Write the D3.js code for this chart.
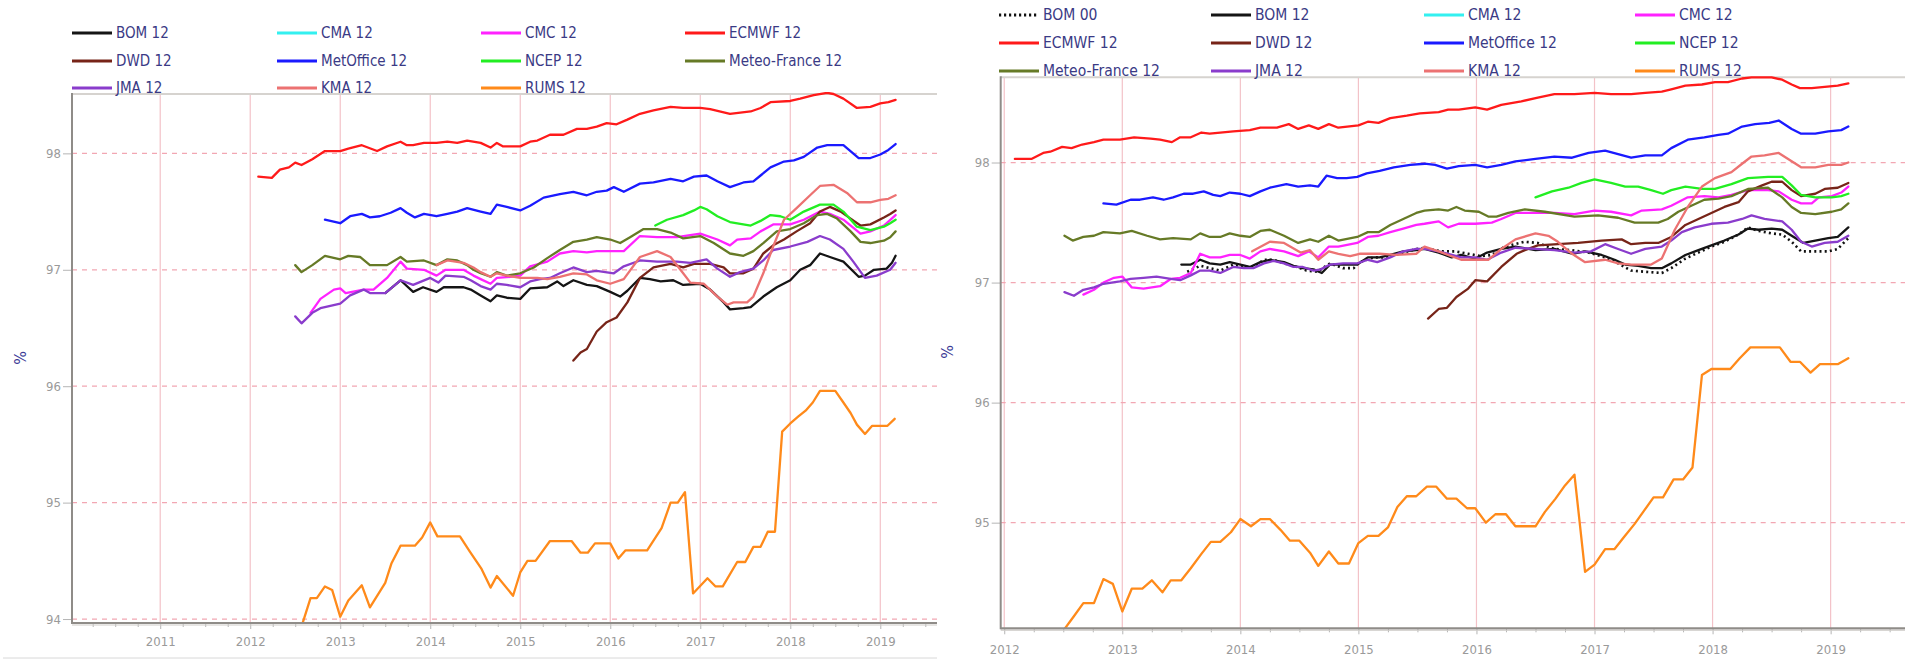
<!DOCTYPE html>
<html>
<head>
<meta charset="utf-8">
<script src="https://cdn.jsdelivr.net/npm/d3@7"></script>
<style>
  html, body { margin: 0; padding: 0; background: #fff; }
  svg { display: block; }
  text { font-family: "DejaVu Sans Condensed", "DejaVu Sans", sans-serif; font-stretch: condensed; }
</style>
</head>
<body>
<svg id="chart" width="1905" height="659"></svg>
<script>
// ---------- data: [decimal year, % score] ----------
// Left panel
const L_BOM12 = [[2013.50,96.80],[2013.67,96.91],[2013.81,96.81],[2013.92,96.85],[2014.07,96.81],[2014.15,96.85],[2014.37,96.85],[2014.45,96.83],[2014.56,96.78],[2014.67,96.73],[2014.74,96.78],[2014.85,96.76],[2015.0,96.75],[2015.11,96.84],[2015.30,96.85],[2015.41,96.90],[2015.48,96.86],[2015.59,96.91],[2015.74,96.87],[2015.85,96.86],[2016.0,96.81],[2016.11,96.77],[2016.19,96.82],[2016.33,96.93],[2016.44,96.92],[2016.56,96.90],[2016.70,96.91],[2016.81,96.87],[2017.0,96.88],[2017.11,96.83],[2017.26,96.72],[2017.33,96.66],[2017.48,96.67],[2017.56,96.68],[2017.70,96.77],[2017.85,96.85],[2018.0,96.91],[2018.11,97.00],[2018.22,97.04],[2018.33,97.14],[2018.44,97.11],[2018.59,97.07],[2018.76,96.94],[2018.83,96.95],[2018.93,97.00],[2019.07,97.01],[2019.13,97.06],[2019.17,97.12]];
const L_CMA12 = [];
const L_CMC12 = [[2012.67,96.63],[2012.78,96.75],[2012.93,96.83],[2013.0,96.84],[2013.06,96.80],[2013.26,96.83],[2013.37,96.83],[2013.52,96.93],[2013.67,97.07],[2013.74,97.01],[2013.93,97.00],[2014.07,96.95],[2014.17,97.00],[2014.37,97.00],[2014.48,96.95],[2014.56,96.92],[2014.67,96.88],[2014.74,96.93],[2014.89,96.94],[2015.0,96.95],[2015.11,97.03],[2015.30,97.07],[2015.44,97.14],[2015.59,97.16],[2015.74,97.15],[2015.85,97.16],[2016.04,97.16],[2016.15,97.16],[2016.33,97.29],[2016.52,97.28],[2016.74,97.28],[2017.0,97.31],[2017.19,97.26],[2017.33,97.21],[2017.41,97.26],[2017.56,97.27],[2017.67,97.33],[2017.81,97.39],[2018.0,97.39],[2018.15,97.43],[2018.33,97.50],[2018.44,97.48],[2018.59,97.43],[2018.78,97.31],[2018.89,97.33],[2019.04,97.38],[2019.17,97.47]];
const L_ECMWF12 = [[2012.09,97.80],[2012.24,97.79],[2012.33,97.86],[2012.43,97.88],[2012.5,97.92],[2012.57,97.90],[2012.69,97.95],[2012.83,98.02],[2013.0,98.02],[2013.09,98.04],[2013.24,98.07],[2013.41,98.02],[2013.52,98.06],[2013.67,98.10],[2013.74,98.07],[2013.81,98.07],[2013.93,98.09],[2014.07,98.09],[2014.19,98.10],[2014.3,98.09],[2014.41,98.11],[2014.56,98.09],[2014.67,98.05],[2014.74,98.09],[2014.81,98.06],[2015.0,98.06],[2015.11,98.10],[2015.19,98.11],[2015.33,98.16],[2015.48,98.16],[2015.63,98.21],[2015.74,98.21],[2015.85,98.23],[2015.96,98.26],[2016.07,98.25],[2016.19,98.29],[2016.33,98.34],[2016.48,98.37],[2016.67,98.40],[2016.81,98.39],[2017.0,98.39],[2017.11,98.38],[2017.33,98.34],[2017.56,98.36],[2017.67,98.39],[2017.78,98.44],[2018.0,98.45],[2018.11,98.47],[2018.26,98.50],[2018.41,98.52],[2018.48,98.51],[2018.59,98.47],[2018.74,98.39],[2018.89,98.40],[2019.0,98.43],[2019.09,98.44],[2019.17,98.46]];
const L_DWD12 = [[2015.59,96.22],[2015.67,96.29],[2015.74,96.32],[2015.85,96.47],[2015.96,96.55],[2016.07,96.59],[2016.19,96.72],[2016.33,96.93],[2016.48,97.02],[2016.67,97.05],[2016.81,97.02],[2016.93,97.05],[2017.11,97.05],[2017.26,97.02],[2017.33,96.97],[2017.48,96.97],[2017.59,97.01],[2017.70,97.14],[2017.81,97.21],[2017.93,97.26],[2018.07,97.33],[2018.22,97.40],[2018.33,97.50],[2018.44,97.54],[2018.56,97.50],[2018.67,97.44],[2018.78,97.38],[2018.89,97.39],[2019.04,97.45],[2019.11,97.48],[2019.17,97.51]];
const L_METOFFICE12 = [[2012.83,97.43],[2013.0,97.40],[2013.11,97.46],[2013.24,97.48],[2013.33,97.45],[2013.44,97.46],[2013.56,97.49],[2013.67,97.53],[2013.74,97.49],[2013.83,97.45],[2013.93,97.48],[2014.07,97.46],[2014.19,97.48],[2014.3,97.50],[2014.41,97.53],[2014.56,97.50],[2014.67,97.48],[2014.74,97.56],[2014.85,97.54],[2015.0,97.51],[2015.11,97.55],[2015.26,97.62],[2015.44,97.65],[2015.59,97.67],[2015.74,97.64],[2015.85,97.67],[2015.96,97.68],[2016.04,97.71],[2016.15,97.67],[2016.33,97.74],[2016.48,97.75],[2016.67,97.78],[2016.81,97.76],[2016.93,97.80],[2017.07,97.81],[2017.19,97.76],[2017.33,97.71],[2017.48,97.75],[2017.59,97.76],[2017.67,97.81],[2017.78,97.88],[2017.93,97.93],[2018.04,97.94],[2018.15,97.97],[2018.30,98.05],[2018.41,98.07],[2018.59,98.07],[2018.76,97.96],[2018.89,97.96],[2019.0,97.99],[2019.09,98.03],[2019.17,98.08]];
const L_NCEP12 = [[2016.5,97.38],[2016.63,97.43],[2016.81,97.47],[2016.93,97.51],[2017.0,97.54],[2017.07,97.52],[2017.19,97.46],[2017.33,97.41],[2017.56,97.38],[2017.67,97.42],[2017.78,97.47],[2017.89,97.46],[2018.0,97.43],[2018.15,97.50],[2018.33,97.56],[2018.48,97.56],[2018.59,97.50],[2018.74,97.37],[2018.89,97.34],[2019.04,97.37],[2019.11,97.40],[2019.17,97.43]];
const L_METEOFRANCE12 = [[2012.5,97.04],[2012.57,96.98],[2012.69,97.04],[2012.83,97.12],[2013.0,97.09],[2013.09,97.12],[2013.22,97.11],[2013.33,97.04],[2013.52,97.04],[2013.67,97.11],[2013.74,97.07],[2013.93,97.08],[2014.07,97.04],[2014.19,97.09],[2014.3,97.08],[2014.41,97.04],[2014.48,97.00],[2014.56,96.97],[2014.67,96.94],[2014.74,96.98],[2014.85,96.95],[2015.0,96.97],[2015.15,97.02],[2015.30,97.10],[2015.44,97.17],[2015.59,97.24],[2015.74,97.26],[2015.85,97.28],[2016.0,97.26],[2016.11,97.23],[2016.22,97.28],[2016.37,97.35],[2016.52,97.35],[2016.67,97.32],[2016.81,97.27],[2017.0,97.29],[2017.15,97.23],[2017.33,97.14],[2017.48,97.12],[2017.59,97.16],[2017.70,97.23],[2017.85,97.33],[2018.0,97.35],[2018.15,97.40],[2018.30,97.47],[2018.41,97.48],[2018.52,97.44],[2018.67,97.33],[2018.78,97.24],[2018.89,97.23],[2019.04,97.25],[2019.11,97.28],[2019.17,97.33]];
const L_JMA12 = [[2012.5,96.60],[2012.57,96.54],[2012.69,96.63],[2012.78,96.67],[2013.0,96.71],[2013.11,96.78],[2013.26,96.83],[2013.33,96.80],[2013.50,96.80],[2013.67,96.91],[2013.81,96.87],[2014.0,96.93],[2014.09,96.89],[2014.17,96.95],[2014.37,96.94],[2014.45,96.91],[2014.56,96.86],[2014.67,96.83],[2014.74,96.88],[2014.85,96.87],[2015.0,96.85],[2015.11,96.90],[2015.22,96.92],[2015.33,96.93],[2015.44,96.97],[2015.59,97.02],[2015.74,96.98],[2015.85,96.99],[2016.04,96.97],[2016.15,97.03],[2016.33,97.08],[2016.52,97.07],[2016.74,97.07],[2016.89,97.06],[2017.07,97.09],[2017.19,97.01],[2017.33,96.94],[2017.44,96.98],[2017.59,97.01],[2017.70,97.08],[2017.81,97.17],[2018.0,97.20],[2018.19,97.24],[2018.33,97.29],[2018.44,97.26],[2018.59,97.18],[2018.70,97.07],[2018.83,96.93],[2018.96,96.95],[2019.11,97.00],[2019.17,97.06]];
const L_KMA12 = [[2014.07,97.04],[2014.19,97.08],[2014.37,97.06],[2014.48,97.02],[2014.56,96.98],[2014.67,96.94],[2014.74,96.97],[2014.85,96.95],[2015.0,96.93],[2015.19,96.93],[2015.30,96.92],[2015.44,96.94],[2015.59,96.97],[2015.74,96.96],[2015.85,96.91],[2016.0,96.88],[2016.15,96.92],[2016.33,97.11],[2016.52,97.16],[2016.67,97.11],[2016.81,96.97],[2016.89,96.89],[2017.04,96.88],[2017.19,96.77],[2017.30,96.70],[2017.37,96.72],[2017.52,96.72],[2017.59,96.77],[2017.70,96.97],[2017.81,97.20],[2017.93,97.43],[2018.07,97.53],[2018.22,97.64],[2018.33,97.72],[2018.48,97.73],[2018.63,97.66],[2018.74,97.58],[2018.89,97.58],[2019.0,97.60],[2019.09,97.61],[2019.17,97.64]];
const L_RUMS12 = [[2012.5,93.96],[2012.58,93.96],[2012.67,94.18],[2012.74,94.18],[2012.83,94.28],[2012.91,94.25],[2013.0,94.02],[2013.09,94.16],[2013.24,94.29],[2013.33,94.10],[2013.5,94.31],[2013.57,94.48],[2013.67,94.63],[2013.83,94.63],[2013.91,94.70],[2014.0,94.83],[2014.08,94.71],[2014.33,94.71],[2014.44,94.58],[2014.57,94.43],[2014.67,94.27],[2014.74,94.37],[2014.92,94.20],[2015.0,94.40],[2015.08,94.50],[2015.17,94.50],[2015.33,94.67],[2015.57,94.67],[2015.67,94.57],[2015.75,94.57],[2015.83,94.65],[2016.0,94.65],[2016.09,94.52],[2016.17,94.59],[2016.41,94.59],[2016.57,94.78],[2016.67,95.0],[2016.75,95.0],[2016.83,95.09],[2016.92,94.22],[2017.08,94.35],[2017.17,94.28],[2017.25,94.28],[2017.41,94.49],[2017.5,94.49],[2017.59,94.62],[2017.67,94.62],[2017.75,94.75],[2017.83,94.75],[2017.91,95.61],[2018.0,95.68],[2018.09,95.74],[2018.17,95.79],[2018.25,95.86],[2018.33,95.96],[2018.5,95.96],[2018.59,95.86],[2018.67,95.77],[2018.74,95.67],[2018.83,95.59],[2018.91,95.66],[2019.08,95.66],[2019.16,95.72]];

// Right panel
const R_BOM00 = [[2013.55,97.09],[2013.66,97.14],[2013.74,97.12],[2013.83,97.10],[2013.94,97.15],[2014.03,97.13],[2014.11,97.13],[2014.20,97.19],[2014.28,97.19],[2014.37,97.16],[2014.48,97.13],[2014.56,97.10],[2014.65,97.09],[2014.76,97.16],[2014.87,97.12],[2014.96,97.12],[2015.01,97.17],[2015.13,97.21],[2015.24,97.21],[2015.35,97.24],[2015.49,97.28],[2015.56,97.29],[2015.70,97.26],[2015.82,97.26],[2015.93,97.24],[2016.04,97.22],[2016.13,97.23],[2016.24,97.30],[2016.41,97.34],[2016.52,97.33],[2016.66,97.28],[2016.81,97.27],[2016.95,97.25],[2017.09,97.21],[2017.20,97.16],[2017.31,97.10],[2017.43,97.09],[2017.57,97.08],[2017.65,97.12],[2017.77,97.20],[2017.88,97.25],[2017.99,97.30],[2018.10,97.34],[2018.22,97.40],[2018.30,97.46],[2018.39,97.43],[2018.50,97.41],[2018.59,97.40],[2018.67,97.34],[2018.75,97.26],[2018.87,97.26],[2018.98,97.26],[2019.06,97.28],[2019.15,97.37]];
const R_BOM12 = [[2013.50,97.15],[2013.58,97.15],[2013.66,97.19],[2013.74,97.16],[2013.83,97.15],[2013.91,97.17],[2014.0,97.15],[2014.08,97.13],[2014.17,97.17],[2014.25,97.19],[2014.37,97.17],[2014.45,97.14],[2014.53,97.12],[2014.62,97.11],[2014.69,97.08],[2014.76,97.15],[2014.87,97.15],[2014.99,97.15],[2015.08,97.21],[2015.18,97.21],[2015.27,97.23],[2015.38,97.26],[2015.49,97.27],[2015.56,97.28],[2015.68,97.25],[2015.79,97.21],[2015.87,97.23],[2015.99,97.20],[2016.09,97.25],[2016.21,97.28],[2016.33,97.30],[2016.50,97.27],[2016.66,97.28],[2016.81,97.24],[2016.92,97.26],[2017.06,97.23],[2017.17,97.19],[2017.26,97.15],[2017.37,97.14],[2017.48,97.12],[2017.57,97.12],[2017.65,97.16],[2017.77,97.23],[2017.88,97.27],[2017.99,97.31],[2018.10,97.35],[2018.22,97.40],[2018.30,97.45],[2018.39,97.44],[2018.50,97.45],[2018.59,97.44],[2018.67,97.39],[2018.77,97.33],[2018.87,97.35],[2018.98,97.37],[2019.06,97.38],[2019.15,97.46]];
const R_CMA12 = [];
const R_CMC12 = [[2012.67,96.90],[2012.76,96.94],[2012.84,97.00],[2012.93,97.04],[2013.0,97.05],[2013.08,96.96],[2013.18,96.95],[2013.32,96.97],[2013.41,97.03],[2013.49,97.04],[2013.58,97.08],[2013.66,97.24],[2013.74,97.21],[2013.83,97.21],[2013.91,97.23],[2014.0,97.23],[2014.08,97.20],[2014.17,97.26],[2014.25,97.28],[2014.37,97.26],[2014.49,97.22],[2014.58,97.26],[2014.66,97.21],[2014.75,97.30],[2014.83,97.30],[2014.99,97.33],[2015.08,97.38],[2015.17,97.39],[2015.27,97.42],[2015.38,97.45],[2015.49,97.48],[2015.56,97.49],[2015.68,97.51],[2015.76,97.46],[2015.85,97.49],[2015.99,97.49],[2016.13,97.50],[2016.21,97.53],[2016.33,97.58],[2016.50,97.58],[2016.66,97.58],[2016.83,97.57],[2017.0,97.60],[2017.14,97.59],[2017.31,97.56],[2017.40,97.60],[2017.57,97.61],[2017.65,97.64],[2017.79,97.71],[2017.93,97.72],[2018.05,97.71],[2018.16,97.73],[2018.30,97.77],[2018.47,97.77],[2018.56,97.76],[2018.67,97.69],[2018.75,97.66],[2018.84,97.66],[2018.90,97.71],[2019.01,97.72],[2019.09,97.75],[2019.15,97.80]];
const R_ECMWF12 = [[2012.09,98.03],[2012.23,98.03],[2012.33,98.08],[2012.39,98.09],[2012.49,98.13],[2012.57,98.12],[2012.66,98.15],[2012.76,98.17],[2012.84,98.19],[2012.98,98.19],[2013.10,98.21],[2013.24,98.20],[2013.32,98.19],[2013.42,98.17],[2013.49,98.21],[2013.58,98.21],[2013.67,98.25],[2013.74,98.24],[2013.83,98.25],[2013.94,98.26],[2014.08,98.27],[2014.17,98.29],[2014.31,98.29],[2014.41,98.32],[2014.49,98.28],[2014.58,98.31],[2014.66,98.28],[2014.75,98.32],[2014.83,98.29],[2015.0,98.31],[2015.08,98.34],[2015.17,98.33],[2015.27,98.37],[2015.41,98.39],[2015.52,98.41],[2015.68,98.42],[2015.76,98.44],[2015.85,98.44],[2015.99,98.46],[2016.09,98.44],[2016.21,98.48],[2016.38,98.51],[2016.52,98.54],[2016.66,98.57],[2016.83,98.57],[2017.0,98.58],[2017.14,98.57],[2017.31,98.57],[2017.43,98.58],[2017.57,98.59],[2017.65,98.61],[2017.77,98.64],[2017.91,98.65],[2018.02,98.67],[2018.13,98.67],[2018.25,98.70],[2018.33,98.71],[2018.50,98.71],[2018.59,98.69],[2018.67,98.65],[2018.74,98.62],[2018.84,98.62],[2018.95,98.63],[2019.06,98.64],[2019.15,98.66]];
const R_DWD12 = [[2015.59,96.70],[2015.68,96.78],[2015.75,96.79],[2015.83,96.88],[2015.93,96.95],[2015.99,97.02],[2016.09,97.01],[2016.21,97.13],[2016.34,97.24],[2016.41,97.27],[2016.52,97.31],[2016.69,97.32],[2016.86,97.33],[2017.06,97.35],[2017.23,97.36],[2017.31,97.32],[2017.43,97.33],[2017.54,97.33],[2017.65,97.38],[2017.77,97.48],[2017.88,97.53],[2017.99,97.58],[2018.10,97.63],[2018.22,97.67],[2018.30,97.76],[2018.42,97.81],[2018.50,97.84],[2018.59,97.84],[2018.67,97.77],[2018.75,97.72],[2018.87,97.74],[2018.95,97.78],[2019.06,97.79],[2019.15,97.83]];
const R_METOFFICE12 = [[2012.84,97.66],[2012.95,97.65],[2013.07,97.69],[2013.15,97.69],[2013.26,97.71],[2013.35,97.69],[2013.43,97.71],[2013.52,97.74],[2013.60,97.74],[2013.69,97.76],[2013.77,97.73],[2013.83,97.72],[2013.91,97.75],[2014.0,97.74],[2014.08,97.72],[2014.17,97.76],[2014.25,97.79],[2014.39,97.82],[2014.49,97.80],[2014.59,97.81],[2014.66,97.80],[2014.73,97.89],[2014.82,97.87],[2014.90,97.87],[2014.99,97.88],[2015.07,97.91],[2015.18,97.93],[2015.30,97.96],[2015.44,97.98],[2015.56,97.99],[2015.65,97.98],[2015.75,97.95],[2015.85,97.97],[2015.99,97.98],[2016.09,97.96],[2016.21,97.98],[2016.33,98.01],[2016.50,98.03],[2016.66,98.05],[2016.81,98.04],[2016.95,98.08],[2017.09,98.10],[2017.20,98.07],[2017.31,98.04],[2017.43,98.06],[2017.57,98.06],[2017.65,98.12],[2017.79,98.19],[2017.93,98.21],[2018.05,98.23],[2018.13,98.24],[2018.25,98.30],[2018.36,98.32],[2018.48,98.33],[2018.56,98.35],[2018.67,98.28],[2018.75,98.24],[2018.87,98.24],[2018.98,98.26],[2019.09,98.27],[2019.15,98.30]];
const R_NCEP12 = [[2016.50,97.71],[2016.64,97.76],[2016.78,97.79],[2016.89,97.83],[2017.0,97.86],[2017.14,97.83],[2017.26,97.80],[2017.37,97.80],[2017.48,97.77],[2017.58,97.74],[2017.65,97.77],[2017.77,97.80],[2017.91,97.78],[2018.02,97.78],[2018.16,97.82],[2018.30,97.87],[2018.47,97.88],[2018.59,97.88],[2018.67,97.81],[2018.75,97.73],[2018.87,97.71],[2019.01,97.71],[2019.09,97.72],[2019.15,97.74]];
const R_METEOFRANCE12 = [[2012.51,97.39],[2012.58,97.35],[2012.67,97.38],[2012.76,97.39],[2012.84,97.42],[2012.98,97.41],[2013.08,97.43],[2013.21,97.39],[2013.32,97.36],[2013.43,97.37],[2013.58,97.36],[2013.66,97.41],[2013.74,97.38],[2013.83,97.38],[2013.91,97.41],[2014.0,97.39],[2014.08,97.38],[2014.17,97.43],[2014.25,97.44],[2014.37,97.39],[2014.49,97.33],[2014.59,97.36],[2014.66,97.34],[2014.75,97.39],[2014.83,97.35],[2014.99,97.38],[2015.08,97.42],[2015.17,97.42],[2015.27,97.48],[2015.38,97.53],[2015.49,97.58],[2015.56,97.60],[2015.68,97.61],[2015.76,97.60],[2015.83,97.63],[2015.90,97.60],[2016.02,97.59],[2016.10,97.55],[2016.17,97.55],[2016.27,97.58],[2016.41,97.61],[2016.58,97.59],[2016.83,97.55],[2017.03,97.56],[2017.20,97.54],[2017.34,97.50],[2017.54,97.50],[2017.62,97.53],[2017.71,97.59],[2017.82,97.64],[2017.93,97.69],[2018.05,97.70],[2018.16,97.72],[2018.30,97.78],[2018.47,97.79],[2018.59,97.71],[2018.67,97.63],[2018.75,97.58],[2018.87,97.57],[2019.01,97.59],[2019.09,97.61],[2019.15,97.66]];
const R_JMA12 = [[2012.51,96.92],[2012.59,96.89],[2012.67,96.94],[2012.76,96.96],[2012.84,96.99],[2012.98,97.01],[2013.07,97.03],[2013.18,97.04],[2013.29,97.05],[2013.41,97.03],[2013.49,97.02],[2013.58,97.06],[2013.66,97.10],[2013.74,97.10],[2013.83,97.08],[2013.94,97.13],[2014.03,97.12],[2014.11,97.12],[2014.20,97.16],[2014.28,97.18],[2014.37,97.16],[2014.45,97.13],[2014.53,97.13],[2014.62,97.10],[2014.68,97.11],[2014.76,97.15],[2014.87,97.16],[2014.99,97.16],[2015.08,97.19],[2015.16,97.17],[2015.27,97.21],[2015.38,97.26],[2015.49,97.28],[2015.56,97.28],[2015.68,97.26],[2015.76,97.24],[2015.87,97.21],[2015.99,97.21],[2016.09,97.19],[2016.21,97.25],[2016.33,97.29],[2016.50,97.28],[2016.66,97.27],[2016.83,97.25],[2016.97,97.26],[2017.09,97.32],[2017.20,97.28],[2017.31,97.24],[2017.43,97.28],[2017.57,97.30],[2017.65,97.35],[2017.74,97.42],[2017.85,97.46],[2017.99,97.49],[2018.13,97.50],[2018.25,97.53],[2018.33,97.56],[2018.44,97.53],[2018.59,97.51],[2018.67,97.44],[2018.75,97.34],[2018.84,97.30],[2018.95,97.33],[2019.06,97.34],[2019.15,97.39]];
const R_KMA12 = [[2014.10,97.26],[2014.25,97.34],[2014.37,97.33],[2014.51,97.25],[2014.59,97.27],[2014.66,97.19],[2014.75,97.26],[2014.83,97.24],[2014.93,97.22],[2015.01,97.24],[2015.18,97.24],[2015.32,97.23],[2015.49,97.24],[2015.56,97.30],[2015.68,97.26],[2015.76,97.23],[2015.87,97.19],[2015.99,97.19],[2016.10,97.19],[2016.21,97.28],[2016.33,97.36],[2016.50,97.41],[2016.61,97.39],[2016.69,97.34],[2016.81,97.24],[2016.92,97.17],[2017.09,97.19],[2017.20,97.16],[2017.31,97.15],[2017.48,97.15],[2017.57,97.20],[2017.68,97.44],[2017.79,97.63],[2017.91,97.80],[2018.02,97.87],[2018.16,97.92],[2018.25,97.99],[2018.33,98.05],[2018.44,98.06],[2018.56,98.08],[2018.64,98.03],[2018.75,97.96],[2018.87,97.96],[2018.98,97.98],[2019.09,97.98],[2019.15,98.00]];
const R_RUMS12 = [[2012.50,94.10],[2012.59,94.22],[2012.67,94.33],[2012.76,94.33],[2012.84,94.53],[2012.92,94.49],[2013.0,94.26],[2013.08,94.45],[2013.17,94.45],[2013.25,94.52],[2013.34,94.42],[2013.41,94.52],[2013.50,94.52],[2013.58,94.62],[2013.67,94.74],[2013.75,94.84],[2013.83,94.84],[2013.92,94.92],[2014.0,95.03],[2014.09,94.97],[2014.17,95.03],[2014.25,95.03],[2014.34,94.94],[2014.42,94.85],[2014.50,94.85],[2014.59,94.75],[2014.66,94.64],[2014.75,94.76],[2014.83,94.66],[2014.92,94.66],[2015.0,94.83],[2015.08,94.89],[2015.17,94.89],[2015.25,94.96],[2015.33,95.13],[2015.41,95.22],[2015.49,95.22],[2015.58,95.30],[2015.66,95.30],[2015.75,95.20],[2015.83,95.20],[2015.92,95.12],[2015.99,95.12],[2016.08,95.00],[2016.16,95.07],[2016.25,95.07],[2016.33,94.97],[2016.50,94.97],[2016.58,95.09],[2016.67,95.20],[2016.75,95.31],[2016.83,95.40],[2016.92,94.59],[2017.0,94.65],[2017.09,94.78],[2017.17,94.78],[2017.25,94.88],[2017.34,94.99],[2017.42,95.10],[2017.50,95.21],[2017.58,95.21],[2017.67,95.36],[2017.75,95.36],[2017.83,95.46],[2017.91,96.23],[2017.99,96.28],[2018.15,96.28],[2018.23,96.37],[2018.32,96.46],[2018.57,96.46],[2018.66,96.34],[2018.74,96.34],[2018.83,96.25],[2018.91,96.32],[2019.06,96.32],[2019.15,96.37]];

// Axis tick values
const Y_TICKS = [94, 95, 96, 97, 98];
const LEFT_YEARS = [2011, 2012, 2013, 2014, 2015, 2016, 2017, 2018, 2019];
const RIGHT_YEARS = [2012, 2013, 2014, 2015, 2016, 2017, 2018, 2019];

// Line styles per model
const STYLE = {
  "BOM 00":        { color: "#111111", dash: "2,3.2", width: 2.6 },
  "BOM 12":        { color: "#151515" },
  "CMA 12":        { color: "#33f0f0" },
  "CMC 12":        { color: "#ff22ff" },
  "ECMWF 12":      { color: "#ff1a1a" },
  "DWD 12":        { color: "#772418" },
  "MetOffice 12":  { color: "#1a1aff" },
  "NCEP 12":       { color: "#22ee22" },
  "Meteo-France 12": { color: "#667a26" },
  "JMA 12":        { color: "#8a3ccc" },
  "KMA 12":        { color: "#ec7272" },
  "RUMS 12":       { color: "#ff8a1a" }
};

const LEFT_SERIES = [
  ["BOM 12", L_BOM12], ["CMA 12", L_CMA12], ["CMC 12", L_CMC12], ["ECMWF 12", L_ECMWF12],
  ["DWD 12", L_DWD12], ["MetOffice 12", L_METOFFICE12], ["NCEP 12", L_NCEP12], ["Meteo-France 12", L_METEOFRANCE12],
  ["JMA 12", L_JMA12], ["KMA 12", L_KMA12], ["RUMS 12", L_RUMS12]
];
const RIGHT_SERIES = [
  ["BOM 00", R_BOM00], ["BOM 12", R_BOM12], ["CMA 12", R_CMA12], ["CMC 12", R_CMC12],
  ["ECMWF 12", R_ECMWF12], ["DWD 12", R_DWD12], ["MetOffice 12", R_METOFFICE12], ["NCEP 12", R_NCEP12],
  ["Meteo-France 12", R_METEOFRANCE12], ["JMA 12", R_JMA12], ["KMA 12", R_KMA12], ["RUMS 12", R_RUMS12]
];

const svg = d3.select("#chart");

function drawPanel(cfg) {
  const g = svg.append("g").attr("class", cfg.id);
  const x = d3.scaleLinear().domain(cfg.xDomain).range([cfg.left, cfg.right]);
  const y = d3.scaleLinear().domain(cfg.yDomain).range([cfg.bottom, cfg.top]);

  const clipId = "clip-" + cfg.id;
  svg.append("defs").append("clipPath").attr("id", clipId)
    .append("rect").attr("x", cfg.left).attr("y", cfg.top - 2)
    .attr("width", cfg.right - cfg.left).attr("height", cfg.bottom - cfg.top + 2);

  // grid: solid verticals at years, dashed horizontals at whole percents
  const grid = g.append("g");
  grid.selectAll("line.v").data(cfg.years).join("line")
    .attr("x1", d => x(d)).attr("x2", d => x(d))
    .attr("y1", cfg.top).attr("y2", cfg.bottom)
    .attr("stroke", "#f3c2c8").attr("stroke-width", 1.2);
  grid.selectAll("line.h").data(Y_TICKS.filter(v => v >= cfg.yDomain[0])).join("line")
    .attr("x1", cfg.left).attr("x2", cfg.right)
    .attr("y1", d => y(d)).attr("y2", d => y(d))
    .attr("stroke", "#f2a7b3").attr("stroke-width", 1.2)
    .attr("stroke-dasharray", "5,5");

  // frame
  g.append("line").attr("x1", cfg.left).attr("x2", cfg.right)
    .attr("y1", cfg.top).attr("y2", cfg.top)
    .attr("stroke", "#d6d3cf").attr("stroke-width", 2);

  // series lines
  const line = d3.line().x(d => x(d[0])).y(d => y(d[1]));
  const lines = g.append("g").attr("clip-path", `url(#${clipId})`);
  cfg.series.forEach(([name, data]) => {
    if (!data.length) return;
    const s = STYLE[name];
    lines.append("path").datum(data)
      .attr("d", line)
      .attr("fill", "none")
      .attr("stroke", s.color)
      .attr("stroke-width", s.width || 2.3)
      .attr("stroke-linejoin", "round")
      .attr("stroke-linecap", s.dash ? "butt" : "round")
      .attr("stroke-dasharray", s.dash || null);
  });

  // y axis
  const yAxis = g.append("g").attr("transform", `translate(${cfg.left},0)`)
    .call(d3.axisLeft(y).tickValues(Y_TICKS.filter(v => v >= cfg.yDomain[0])).tickSize(9).tickPadding(2).tickFormat(d3.format("d")));
  yAxis.select(".domain").remove();
  yAxis.selectAll(".tick line").attr("stroke", "#b5b5b5");
  yAxis.selectAll(".tick text").attr("fill", "#9a9a9a").style("font-size", "13px");

  // x axis: yearly labels and quarterly minor ticks
  const quarters = [];
  for (let yr = Math.floor(cfg.xDomain[0]); yr <= Math.ceil(cfg.xDomain[1]); yr++) {
    [0.25, 0.5, 0.75].forEach(q => {
      const v = yr + q;
      if (v > cfg.xDomain[0] && v < cfg.xDomain[1]) quarters.push(v);
    });
  }
  const xMinor = g.append("g").attr("transform", `translate(0,${cfg.bottom})`)
    .call(d3.axisBottom(x).tickValues(quarters).tickSize(4).tickFormat(""));
  xMinor.select(".domain").remove();
  xMinor.selectAll(".tick line").attr("stroke", "#b5b5b5");

  const xAxis = g.append("g").attr("transform", `translate(0,${cfg.bottom})`)
    .call(d3.axisBottom(x).tickValues(cfg.years).tickSize(6).tickPadding(cfg.labelPad).tickFormat(d3.format("d")));
  xAxis.select(".domain").remove();
  xAxis.selectAll(".tick line").attr("stroke", "#b5b5b5");
  xAxis.selectAll(".tick text").attr("fill", "#9a9a9a").style("font-size", "13px");

  // axis lines
  g.append("line").attr("x1", cfg.left).attr("x2", cfg.left)
    .attr("y1", cfg.top - 1).attr("y2", cfg.bottom + 1)
    .attr("stroke", "#8f8c88").attr("stroke-width", 2);
  g.append("line").attr("x1", cfg.left).attr("x2", cfg.right)
    .attr("y1", cfg.bottom).attr("y2", cfg.bottom)
    .attr("stroke", "#8f8c88").attr("stroke-width", 2.2);
  g.append("line").attr("x1", cfg.left).attr("x2", cfg.right)
    .attr("y1", cfg.bottom + 2).attr("y2", cfg.bottom + 2)
    .attr("stroke", "#cfccc8").attr("stroke-width", 1);

  // y-axis title
  g.append("text")
    .attr("transform", `translate(${cfg.pctX},${cfg.pctY}) rotate(-90)`)
    .attr("text-anchor", "middle").attr("dominant-baseline", "middle")
    .attr("fill", "#3b3b96").style("font-size", "16px").text("%");

  // legend
  const leg = g.append("g");
  cfg.series.forEach(([name], i) => {
    const col = i % 4, row = Math.floor(i / 4);
    const lx = cfg.legendCols[col], ly = cfg.legendRows[row];
    const s = STYLE[name];
    leg.append("line").attr("x1", lx).attr("x2", lx + 40)
      .attr("y1", ly).attr("y2", ly)
      .attr("stroke", s.color).attr("stroke-width", s.dash ? 3 : 2.8)
      .attr("stroke-dasharray", s.dash ? "2.2,2.8" : null);
    leg.append("text").attr("x", lx + 44).attr("y", ly)
      .attr("dominant-baseline", "central")
      .attr("fill", "#3a3a85").style("font-size", cfg.legendFont)
      .text(name);
  });
}

// Left panel
drawPanel({
  id: "left",
  left: 72, right: 937, top: 94, bottom: 623,
  xDomain: [2010.02, 2019.63], yDomain: [93.966, 98.51],
  years: LEFT_YEARS, labelPad: 8,
  series: LEFT_SERIES,
  legendCols: [72, 277, 481, 685], legendRows: [33, 61, 88],
  legendFont: "15px",
  pctX: 21, pctY: 358
});
// thin rule under the left panel
svg.append("line").attr("x1", 3).attr("x2", 937).attr("y1", 658).attr("y2", 658)
  .attr("stroke", "#d8d8d8").attr("stroke-width", 1);

// Right panel
drawPanel({
  id: "right",
  left: 1000.7, right: 1905, top: 77.3, bottom: 628.3,
  xDomain: [2011.97, 2019.63], yDomain: [94.12, 98.71],
  years: RIGHT_YEARS, labelPad: 10,
  series: RIGHT_SERIES,
  legendCols: [999, 1211, 1424, 1635], legendRows: [15, 43, 71],
  legendFont: "15.5px",
  pctX: 948, pctY: 352
});
</script>
</body>
</html>
